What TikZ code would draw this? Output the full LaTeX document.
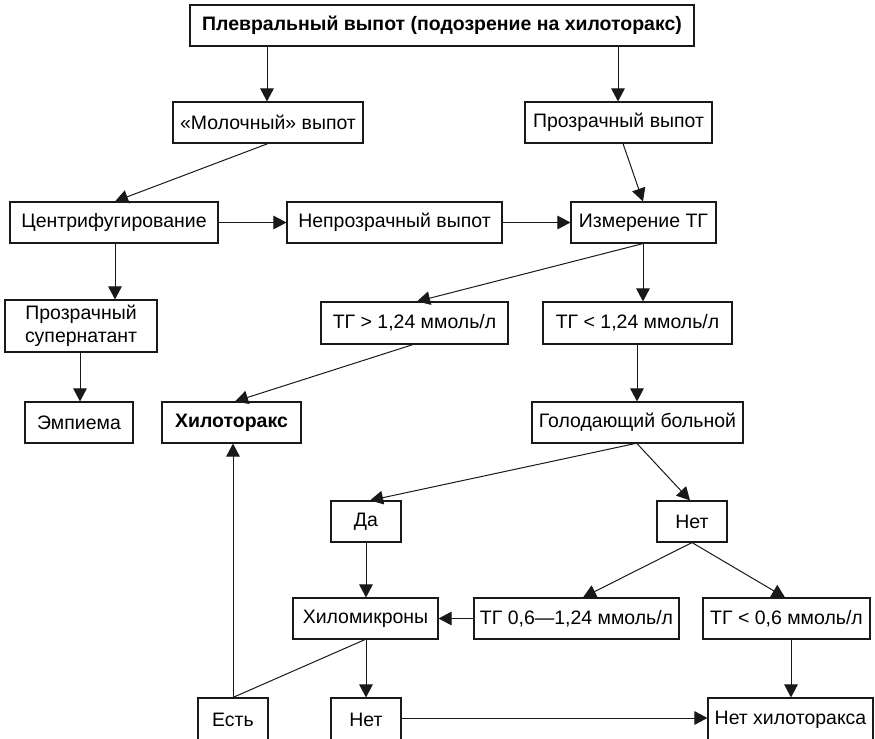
\documentclass[tikz,border=0pt]{standalone}
\usepackage{fontspec}
\setmainfont{Liberation Sans}
\usetikzlibrary{arrows.meta}
\begin{document}
\begin{tikzpicture}[x=0.75pt,y=-0.75pt,
  box/.style={draw=black!90,line width=0.85pt,inner sep=0pt,font=\fontsize{14.6}{17.5}\selectfont,align=center},
  conn/.style={draw=black!90,line width=0.75pt},
  arr/.style={conn,-{Triangle[length=9.8pt,width=10.2pt]}}]
\useasboundingbox (0,0) rectangle (875,739);
\clip (0,0) rectangle (875,739);
\newcommand\bx[6]{%
  \pgfmathsetlengthmacro\bxw{(#4-#2)*0.75pt}%
  \pgfmathsetlengthmacro\bxh{(#5-#3)*0.75pt}%
  \node[box,minimum width=\bxw,minimum height=\bxh] (#1) at ({(#2+#4)/2},{(#3+#5)/2}) {#6};}
\bx{top}{190}{5}{694}{46}{\textbf{Плевральный выпот (подозрение на хилоторакс)}}
\bx{milk}{173}{102}{363}{143}{«Молочный» выпот}
\bx{clear}{525}{102}{712}{143}{Прозрачный выпот}
\bx{centr}{10}{202}{218}{243}{Центрифугирование}
\bx{opaque}{287}{202}{502}{243}{Непрозрачный выпот}
\bx{meas}{571}{202}{716}{243}{Измерение ТГ}
\bx{super}{5}{300}{157}{352}{Прозрачный\\супернатант}
\bx{emp}{25}{402}{133}{443}{Эмпиема}
\bx{chylo}{162}{402}{301}{443}{\textbf{Хилоторакс}}
\bx{tga}{321}{302}{508}{344}{ТГ > 1,24 ммоль/л}
\bx{tgb}{543}{302}{732}{344}{ТГ < 1,24 ммоль/л}
\bx{fast}{532}{402}{743}{443}{Голодающий больной}
\bx{yes}{331}{501}{401}{542}{Да}
\bx{noa}{657}{501}{727}{542}{Нет}
\bx{chm}{293}{598}{438}{639}{Хиломикроны}
\bx{tgc}{474}{598}{679}{639}{ТГ 0,6—1,24 ммоль/л}
\bx{tgd}{703}{598}{870}{639}{ТГ < 0,6 ммоль/л}
\bx{est}{198}{698}{268}{741}{Есть}
\bx{nob}{331}{698}{401}{741}{Нет}
\bx{nochy}{708}{698}{873}{741}{Нет хилоторакса}
% connectors
\draw[arr] (top.south -| 267,0) -- (milk.north -| 267,0);
\draw[arr] (top.south -| 618,0) -- (clear.north -| 618,0);
\draw[arr] (milk.south -| 268,0) -- (centr.north -| 115,0);
\draw[arr] (clear.south -| 623,0) -- (meas.north -| 643,0);
\draw[arr] (centr.east) -- (opaque.west);
\draw[arr] (opaque.east) -- (meas.west);
\draw[arr] (centr.south -| 115,0) -- (super.north -| 115,0);
\draw[arr] (super.south -| 80,0) -- (emp.north -| 80,0);
\draw[arr] (meas.south -| 643,0) -- (tga.north -| 417,0);
\draw[arr] (meas.south -| 643,0) -- (tgb.north -| 643,0);
\draw[arr] (tga.south -| 413,0) -- (chylo.north -| 235,0);
\draw[arr] (tgb.south -| 637,0) -- (fast.north -| 637,0);
\draw[arr] (fast.south -| 635,0) -- (yes.north -| 370,0);
\draw[arr] (fast.south -| 637,0) -- (noa.north -| 690,0);
\draw[arr] (yes.south -| 366,0) -- (chm.north -| 366,0);
\draw[arr] (noa.south -| 692,0) -- (tgc.north -| 583,0);
\draw[arr] (noa.south -| 692,0) -- (tgd.north -| 785,0);
\draw[arr] (tgc.west) -- (chm.east);
\draw[arr] (tgd.south -| 791,0) -- (nochy.north -| 791,0);
\draw[conn] (chm.south -| 365,0) -- (est.north -| 233,0);
\draw[arr] (est.north -| 233,0) -- (chylo.south -| 233,0);
\draw[arr] (chm.south -| 366,0) -- (nob.north -| 366,0);
\draw[arr] (nob.east |- 0,718) -- (nochy.west |- 0,718);
\end{tikzpicture}
\end{document}
